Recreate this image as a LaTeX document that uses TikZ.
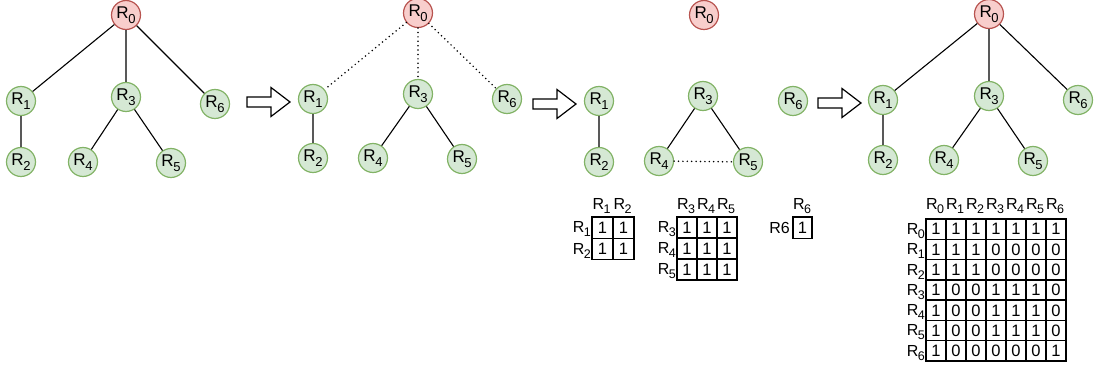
\documentclass[tikz,border=0pt]{standalone}
\usepackage{fontspec}
\setmainfont{Liberation Sans}
\definecolor{leaffill}{HTML}{D5E8D4}
\definecolor{leafline}{HTML}{82B366}
\definecolor{rootfill}{HTML}{F8CECC}
\definecolor{rootline}{HTML}{B85450}
% R with a lowered index, for the circles and for the table labels
\newcommand\nodeR[1]{R\kern-0.5pt\raisebox{-4.5pt}{\fontsize{13}{13}\selectfont #1}}
\newcommand\labR[1]{R\kern-0.5pt\raisebox{-4pt}{\fontsize{12.5}{13}\selectfont #1}}
\tikzset{
  leaf/.style={circle, draw=leafline, fill=leaffill, line width=1.2pt,
    minimum size=29pt, inner sep=0pt, font=\fontsize{17}{19}\selectfont},
  root/.style={leaf, draw=rootline, fill=rootfill},
  link/.style={line width=1.1pt},
  weak/.style={line width=1.7pt, dash pattern=on 0pt off 4.4pt, line cap=round},
  cell/.style={draw, line width=1.4pt, inner sep=0pt, font=\fontsize{16.5}{18}\selectfont},
  lab/.style={inner sep=0pt, font=\fontsize{16}{18}\selectfont},
  blockarrow/.pic={
    \draw[fill=white, line width=1.2pt]
      (0,-5) -- (24,-5) -- (24,-14.5) -- (43,0) -- (24,14.5) -- (24,5) -- (0,5) -- cycle;
  }
}
\begin{document}
\begin{tikzpicture}[x=1pt, y=-1pt]
\useasboundingbox (0,0) rectangle (1096,371);

% ---------- full tree ----------
\node[root] (a0) at (126,15)  {\nodeR{0}};
\node[leaf] (a1) at (21,101)  {\nodeR{1}};
\node[leaf] (a3) at (126,97)  {\nodeR{3}};
\node[leaf] (a6) at (215,104) {\nodeR{6}};
\node[leaf] (a2) at (21,162)  {\nodeR{2}};
\node[leaf] (a4) at (83,162)  {\nodeR{4}};
\node[leaf] (a5) at (171,163) {\nodeR{5}};
\draw[link] (a0) -- (a1) (a0) -- (a3) (a0) -- (a6)
            (a1) -- (a2) (a3) -- (a4) (a3) -- (a5);

\pic at (247,102) {blockarrow};

% ---------- root links weakened ----------
\node[root] (b0) at (418,13)  {\nodeR{0}};
\node[leaf] (b1) at (313,99)  {\nodeR{1}};
\node[leaf] (b3) at (418,94)  {\nodeR{3}};
\node[leaf] (b6) at (507,99)  {\nodeR{6}};
\node[leaf] (b2) at (313,158) {\nodeR{2}};
\node[leaf] (b4) at (373,158) {\nodeR{4}};
\node[leaf] (b5) at (462,159) {\nodeR{5}};
\draw[weak] (b0) -- (b1) (b0) -- (b3) (b0) -- (b6);
\draw[link] (b1) -- (b2) (b3) -- (b4) (b3) -- (b5);

\pic at (533,104) {blockarrow};

% ---------- separated groups ----------
\node[root] (c0) at (704,15)  {\nodeR{0}};
\node[leaf] (c1) at (599,101) {\nodeR{1}};
\node[leaf] (c2) at (599,162) {\nodeR{2}};
\node[leaf] (c3) at (703,96)  {\nodeR{3}};
\node[leaf] (c4) at (659,161) {\nodeR{4}};
\node[leaf] (c5) at (748,162) {\nodeR{5}};
\node[leaf] (c6) at (793,101) {\nodeR{6}};
\draw[link] (c1) -- (c2) (c3) -- (c4) (c3) -- (c5);
\draw[weak] (c4) -- (c5);

% group tables
\foreach \row [count=\i] in {{1,1},{1,1}} {
  \foreach \v [count=\j] in \row {
    \node[cell, minimum width=21pt, minimum height=21.3pt]
      (p-\i-\j) at ({592+21*(\j-1)+10.5},{217+21.3*(\i-1)+10.65}) {\v};
  }
}
\foreach \k [count=\j] in {1,2} {
  \node[lab, anchor=base] (pc-\j) at ({592+21*(\j-1)+9.5},210) {\labR{\k}};
  \node[lab, anchor=base east] (pr-\j) at (591,{217+21.3*(\j-1)+16}) {\labR{\k}};
}

\foreach \row [count=\i] in {{1,1,1},{1,1,1},{1,1,1}} {
  \foreach \v [count=\j] in \row {
    \node[cell, minimum width=20pt, minimum height=21pt]
      (q-\i-\j) at ({677+20*(\j-1)+10},{217+21*(\i-1)+10.5}) {\v};
  }
}
\foreach \k [count=\j] in {3,4,5} {
  \node[lab, anchor=base] (qc-\j) at ({677+20*(\j-1)+9},210) {\labR{\k}};
  \node[lab, anchor=base east] (qr-\j) at (676,{217+21*(\j-1)+16}) {\labR{\k}};
}

\node[cell, minimum width=19pt, minimum height=21.5pt] (s-1-1) at (802.5,227.75) {1};
\node[lab, anchor=base] (sc-1) at (802,210) {\labR{6}};
\node[lab, anchor=base east] (sr-1) at (790,233.5) {R6};

\pic at (818,103) {blockarrow};

% ---------- rebuilt tree ----------
\node[root] (d0) at (989,14)   {\nodeR{0}};
\node[leaf] (d1) at (883,100)  {\nodeR{1}};
\node[leaf] (d3) at (989,96)   {\nodeR{3}};
\node[leaf] (d6) at (1078,100) {\nodeR{6}};
\node[leaf] (d2) at (883,160)  {\nodeR{2}};
\node[leaf] (d4) at (944,160)  {\nodeR{4}};
\node[leaf] (d5) at (1033,161) {\nodeR{5}};
\draw[link] (d0) -- (d1) (d0) -- (d3) (d0) -- (d6)
            (d1) -- (d2) (d3) -- (d4) (d3) -- (d5);

% full table
\foreach \row [count=\i from 0] in {{1,1,1,1,1,1,1},{1,1,1,0,0,0,0},{1,1,1,0,0,0,0},
    {1,0,0,1,1,1,0},{1,0,0,1,1,1,0},{1,0,0,1,1,1,0},{1,0,0,0,0,0,1}} {
  \foreach \v [count=\j from 0] in \row {
    \node[cell, minimum width=20pt, minimum height=20.3pt]
      (t-\i-\j) at ({926+20*\j+10},{219+20.3*\i+10.15}) {\v};
  }
}
\foreach \k in {0,...,6} {
  \node[lab, anchor=base] (tc-\k) at ({926+20*\k+9},210) {\labR{\k}};
  \node[lab, anchor=base east] (tr-\k) at (925,{219+20.3*\k+15.5}) {\labR{\k}};
}
\end{tikzpicture}
\end{document}
